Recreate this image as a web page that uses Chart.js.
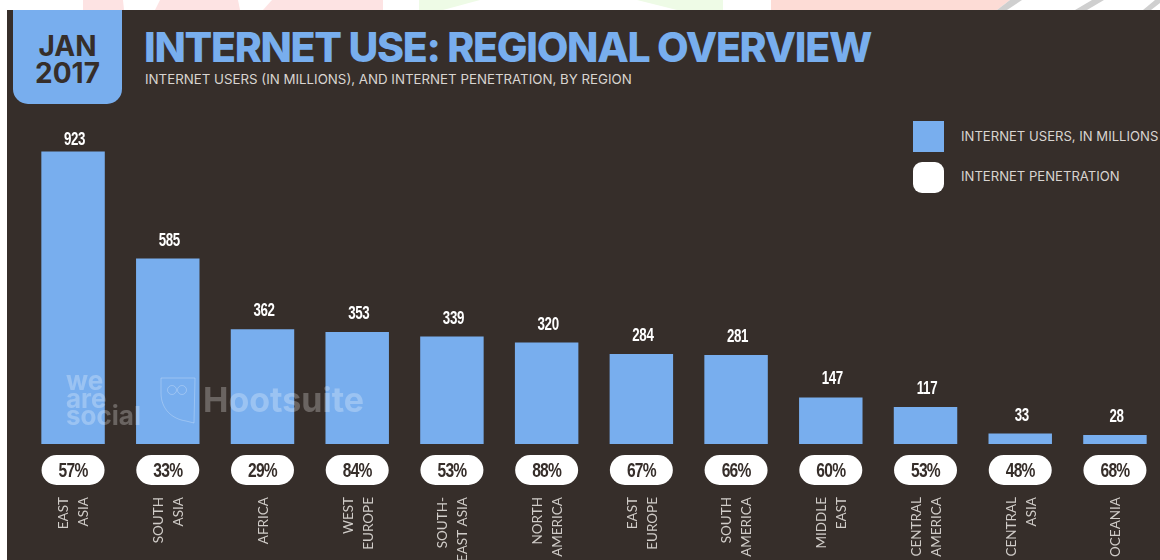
<!DOCTYPE html>
<html>
<head>
<meta charset="utf-8">
<title>Internet Use: Regional Overview</title>
<script src="https://cdn.jsdelivr.net/npm/chart.js@4"></script>
<style>
    html, body { margin: 0; padding: 0; background: #fff; }
    #page { position: relative; width: 1160px; height: 560px; overflow: hidden; font-family: "Liberation Sans", sans-serif; }
    #strip { position: absolute; left: 0; top: 0; }
    #panel { position: absolute; left: 7px; top: 10px; right: 0; bottom: 0; background: #362e2a; }
    #dateTab { position: absolute; left: 13px; top: 10px; width: 109px; height: 94px; background: #78aeee; border-radius: 0 0 15px 15px; }
    .abs { position: absolute; white-space: nowrap; }
    #dateText { left: 13px; width: 109px; top: 33px; text-align: center; font: 700 28px/27px Inter, sans-serif; color: #362e2a; white-space: normal; }
    #title { left: 144px; top: 22px; font: 800 41px/50px Inter, sans-serif; letter-spacing: -1.3px; color: #78aeee; }
    #subtitle { left: 145px; top: 71px; font: 400 13.3px/16px Inter, sans-serif; color: #d9d5d1; }
    .legendMark { position: absolute; left: 913px; width: 31px; height: 31px; }
    .legendText { left: 961px; font: 400 13.1px/16px Inter, sans-serif; color: #d9d5d1; }
    canvas { position: absolute; left: 0; top: 0; }
    .mark { color: rgba(255, 255, 255, 0.26); font-family: Inter, sans-serif; font-weight: 700; }
</style>
</head>
<body>
<div id="page">
    <svg id="strip" width="1160" height="10">
        <g fill="#fde3e3">
            <polygon points="83,0 123,0 124,10 83,10"/>
            <polygon points="160,0 238,0 240,10 155,10"/>
            <polygon points="272,0 383,0 383,10 263,10"/>
        </g>
        <g fill="#eefbe6">
            <polygon points="419,0 480,0 443,10 419,10"/>
            <polygon points="637,0 723,0 723,10 677,10"/>
        </g>
        <polygon fill="#fddcd6" points="771,0 1010,0 997,10 771,10"/>
        <g fill="#cfcfcf">
            <polygon points="1010,0 1022,0 1007,10 997,10"/>
            <polygon points="1092,0 1104,0 1087,10 1075,10"/>
            <polygon points="1155,0 1160,0 1160,3 1151,10 1143,10"/>
        </g>
    </svg>
    <div id="panel"></div>
    <div id="dateTab"></div>
    <div id="dateText" class="abs">JAN<br>2017</div>
    <div id="title" class="abs">INTERNET USE: REGIONAL OVERVIEW</div>
    <div id="subtitle" class="abs">INTERNET USERS (IN MILLIONS), AND INTERNET PENETRATION, BY REGION</div>
    <div class="legendMark" style="top:121px;background:#78aeee"></div>
    <div class="legendMark" style="top:162px;background:#fff;border-radius:9px"></div>
    <div class="abs legendText" style="top:128px">INTERNET USERS, IN MILLIONS</div>
    <div class="abs legendText" style="top:168px">INTERNET PENETRATION</div>
    <canvas id="regionChart" width="1170" height="560"></canvas>
    <div class="abs mark" style="left:66px;top:372px;font-size:26px;line-height:17.5px">we<br>are<br>social</div>
    <svg class="abs" style="left:160px;top:377px" width="36" height="48" viewBox="0 0 36 48" fill="none" stroke="rgba(255,255,255,0.26)" stroke-width="1">
        <path d="M1 1 L35 1 L34 46 L26 44 C12 42 1 32 1 16 Z"/>
        <circle cx="12" cy="13" r="4.5"/><circle cx="22" cy="13" r="4.5"/>
    </svg>
    <div class="abs mark" style="left:203px;top:379px;font-size:34px;line-height:42px">Hootsuite</div>
</div>
<script>
const regions = [
    ['EAST', 'ASIA'], ['SOUTH', 'ASIA'], 'AFRICA', ['WEST', 'EUROPE'],
    ['SOUTH-', 'EAST ASIA'], ['NORTH', 'AMERICA'], ['EAST', 'EUROPE'], ['SOUTH', 'AMERICA'],
    ['MIDDLE', 'EAST'], ['CENTRAL', 'AMERICA'], ['CENTRAL', 'ASIA'], 'OCEANIA'
];
const internetUsers = [923, 585, 362, 353, 339, 320, 284, 281, 147, 117, 33, 28];
const penetration = [57, 33, 29, 84, 53, 88, 67, 66, 60, 53, 48, 68];

// Liberation Sans squeezed horizontally, for the tall narrow numerals
function drawCondensed(ctx, text, x, y, squeeze) {
    ctx.save();
    ctx.translate(x, y);
    ctx.scale(squeeze, 1);
    ctx.fillText(text, 0, 0);
    ctx.restore();
}

// User counts above the bars, penetration pills below them
const barAnnotations = {
    id: 'barAnnotations',
    afterDatasetsDraw(chart) {
        const { ctx, chartArea } = chart;
        const bars = chart.getDatasetMeta(0).data;
        ctx.save();
        ctx.textAlign = 'center';
        ctx.textBaseline = 'alphabetic';
        bars.forEach((bar, i) => {
            const gap = i === 0 ? 6 : 13;
            ctx.fillStyle = '#ffffff';
            ctx.font = '700 18px "Liberation Sans", sans-serif';
            ctx.letterSpacing = '-0.5px';
            drawCondensed(ctx, internetUsers[i], bar.x + 1.5, bar.y - gap, 0.74);

            ctx.beginPath();
            ctx.roundRect(bar.x - 31.5, chartArea.bottom + 11, 63, 30, 15);
            ctx.fill();

            ctx.fillStyle = '#362e2a';
            ctx.font = '700 20px "Liberation Sans", sans-serif';
            ctx.letterSpacing = '-1px';
            drawCondensed(ctx, penetration[i] + '%', bar.x, chartArea.bottom + 33, 0.78);
        });
        ctx.restore();
    }
};

new Chart(document.getElementById('regionChart'), {
    type: 'bar',
    data: {
        labels: regions,
        datasets: [{
            data: internetUsers,
            backgroundColor: '#78aeee',
            categoryPercentage: 1,
            barPercentage: 0.67
        }]
    },
    options: {
        responsive: false,
        animation: false,
        layout: { padding: { top: 127, left: 25.7, right: 7.7 } },
        plugins: { legend: { display: false }, tooltip: { enabled: false } },
        scales: {
            y: { display: false, min: 0, max: 1000 },
            x: {
                afterFit(scale) {
                    scale.height = 116;
                    scale.paddingLeft = 0;
                    scale.paddingRight = 0;
                },
                grid: { display: false, drawTicks: false },
                border: { display: false },
                ticks: {
                    autoSkip: false,
                    minRotation: 90,
                    maxRotation: 90,
                    padding: 53,
                    labelOffset: -9,
                    color: '#d0ccc8',
                    font: { family: 'Lato', size: 13.5, lineHeight: 0.74 },
                    // Half-step blank lines keep one- and two-line labels centred on the bar
                    callback(value) {
                        const label = regions[value];
                        return Array.isArray(label) ? [label[0], '', label[1]] : ['', label];
                    }
                }
            }
        }
    },
    plugins: [barAnnotations]
});
</script>
</body>
</html>
